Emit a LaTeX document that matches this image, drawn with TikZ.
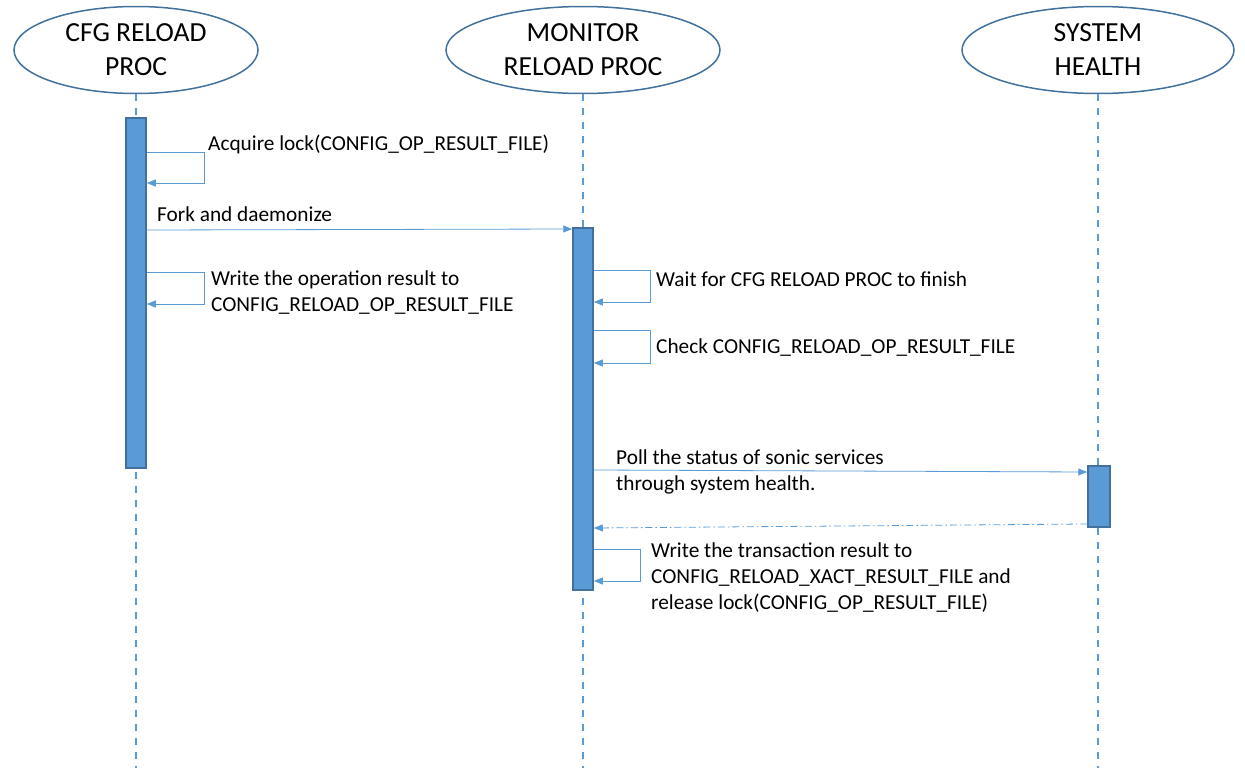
\documentclass[tikz,border=0pt]{standalone}
\usepackage{fontspec}
\setmainfont{Carlito}
\usetikzlibrary{shapes.geometric,
	arrows.meta,
	positioning}
\definecolor{lineblue}{HTML}{5B9BD5}
\definecolor{edgeblue}{HTML}{41719C}
\tikzstyle{proc}=[draw=edgeblue, line width=1.5pt, ellipse, inner sep=0,
		minimum height=87pt, align=center, font=\fontsize{27.6}{34}\selectfont]
\tikzstyle{life}=[draw=lineblue, line width=1.5pt, dash pattern=on 7pt off 7pt]
\tikzstyle{act}=[draw=edgeblue, fill=lineblue, line width=1.5pt,
		minimum width=20pt, inner sep=0]
\tikzstyle{msg}=[draw=lineblue, line width=0.8pt, -{Triangle[length=9pt,width=7pt]}]
\tikzstyle{ret}=[msg, dash pattern=on 7pt off 3pt on 1.5pt off 3pt]
\tikzstyle{lbl}=[anchor=west, inner sep=0, align=left, font=\fontsize{21.3}{26}\selectfont]

\begin{document}
\begin{tikzpicture}[x=1pt, y=-1pt]
	\useasboundingbox (0,0) rectangle (1245,768);
	% processes
	\node[proc, minimum width=244pt] (cfg) at (136,50) {CFG RELOAD\\PROC};
	\node[proc, minimum width=274pt] (mon) at (583,50) {MONITOR\\RELOAD PROC};
	\node[proc, minimum width=272pt] (sh) at (1098,50) {SYSTEM\\HEALTH};
	% lifelines
	\coordinate (cfgend) at (136,768);
	\coordinate (monend) at (583,768);
	\coordinate (shend) at (1098,768);
	\draw[life] (cfg.south) -- (cfgend);
	\draw[life] (mon.south) -- (monend);
	\draw[life] (sh.south) -- (shend);
	% activations
	\node[act, minimum height=350pt] (cfgact) at (136,293) {};
	\node[act, minimum height=362pt] (monact) at (583,409) {};
	\node[act, minimum width=22pt, minimum height=61pt] (shact) at (1099,496.5) {};
	% messages
	\draw[msg] (cfgact.east |- 0,152) -| (204,183) -- (cfgact.east |- 0,183);
	\node[lbl] (acq) at (208,144) {Acquire lock(CONFIG\_OP\_RESULT\_FILE)};
	\draw[msg] (cfgact.east |- 0,230) -- (monact.west |- 0,229);
	\node[lbl] (fork) at (157,214) {Fork and daemonize};
	\draw[msg] (cfgact.east |- 0,272) -| (204,304) -- (cfgact.east |- 0,304);
	\node[lbl] (wop) at (211,293) {Write the operation result to\\CONFIG\_RELOAD\_OP\_RESULT\_FILE};
	\draw[msg] (monact.east |- 0,270) -| (650,302) -- (monact.east |- 0,302);
	\node[lbl] (wait) at (656,279) {Wait for CFG RELOAD PROC to finish};
	\draw[msg] (monact.east |- 0,330) -| (650,363) -- (monact.east |- 0,363);
	\node[lbl] (chk) at (656,348) {Check CONFIG\_RELOAD\_OP\_RESULT\_FILE};
	\draw[msg] (monact.east |- 0,470) -- (shact.west |- 0,472);
	\node[lbl] (poll) at (616,472) {Poll the status of sonic services\\through system health.};
	\draw[ret] (shact.west |- 0,524) -- (monact.east |- 0,528);
	\draw[msg] (monact.east |- 0,549) -| (640,581) -- (monact.east |- 0,581);
	\node[lbl] (wxact) at (651,578) {Write the transaction result to\\CONFIG\_RELOAD\_XACT\_RESULT\_FILE and\\release lock(CONFIG\_OP\_RESULT\_FILE)};
\end{tikzpicture}
\end{document}
